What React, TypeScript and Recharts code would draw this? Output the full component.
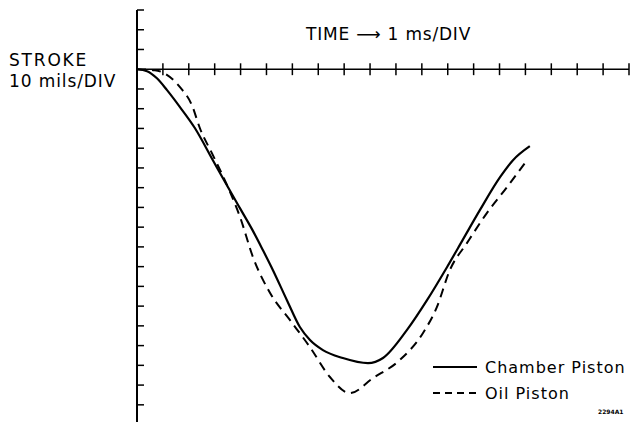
import { LineChart, Line, XAxis, YAxis, ReferenceLine, Legend } from "recharts";

// time in ms (1 div = 1 ms), stroke in divisions (1 div = 10 mils), downward negative
const chamberPiston = [
  { t: 0, s: 0 },
  { t: 0.39, s: -0.1 },
  { t: 0.77, s: -0.46 },
  { t: 1.16, s: -1.06 },
  { t: 1.66, s: -1.92 },
  { t: 2.24, s: -2.99 },
  { t: 2.93, s: -4.61 },
  { t: 3.51, s: -5.97 },
  { t: 3.98, s: -7.05 },
  { t: 4.44, s: -8.1 },
  { t: 4.86, s: -9.16 },
  { t: 5.25, s: -10.18 },
  { t: 5.79, s: -11.7 },
  { t: 6.29, s: -13.06 },
  { t: 6.68, s: -13.72 },
  { t: 7.18, s: -14.23 },
  { t: 7.95, s: -14.63 },
  { t: 8.92, s: -14.89 },
  { t: 9.5, s: -14.63 },
  { t: 10.42, s: -13.22 },
  { t: 11.2, s: -11.7 },
  { t: 11.97, s: -10.03 },
  { t: 12.59, s: -8.62 },
  { t: 13.24, s: -7.14 },
  { t: 14.02, s: -5.47 },
  { t: 14.52, s: -4.61 },
  { t: 15.17, s: -3.9 },
];

const oilPiston = [
  { t: 0, s: 0 },
  { t: 0.69, s: -0.05 },
  { t: 0.97, s: -0.15 },
  { t: 1.66, s: -0.91 },
  { t: 2.12, s: -1.82 },
  { t: 2.43, s: -2.99 },
  { t: 2.93, s: -4.35 },
  { t: 3.51, s: -5.97 },
  { t: 3.98, s: -7.49 },
  { t: 4.48, s: -9.52 },
  { t: 5.14, s: -11.34 },
  { t: 5.91, s: -12.71 },
  { t: 6.68, s: -14.08 },
  { t: 7.45, s: -15.59 },
  { t: 8.22, s: -16.41 },
  { t: 9.11, s: -15.65 },
  { t: 10.15, s: -14.73 },
  { t: 11.04, s: -13.37 },
  { t: 11.58, s: -12.05 },
  { t: 12.08, s: -10.18 },
  { t: 12.74, s: -8.81 },
  { t: 13.51, s: -7.29 },
  { t: 14.29, s: -5.97 },
  { t: 15.06, s: -4.61 },
];

const timeTicks = [1, 2, 3, 4, 5, 6, 7, 8, 9, 10, 11, 12, 13, 14, 15, 16, 17, 18, 19];
const strokeTicks = [3, 2, 1, -1, -2, -3, -4, -5, -6, -7, -8, -9, -10, -11, -12, -13, -14, -15, -16, -17];

const series = [
  { name: "Chamber Piston", dash: undefined },
  { name: "Oil Piston", dash: "7 5" },
];

const font = "'DejaVu Sans', sans-serif";

const renderLegend = () => (
  <div style={{ fontFamily: font, fontSize: 16, letterSpacing: 1, color: "#000" }}>
    {series.map((s) => (
      <div key={s.name} style={{ display: "flex", alignItems: "center", height: 26 }}>
        <svg width={44} height={6} style={{ marginRight: 8 }}>
          <line x1={0} y1={3} x2={44} y2={3} stroke="#000" strokeWidth={2.2} strokeDasharray={s.dash} />
        </svg>
        {s.name}
      </div>
    ))}
  </div>
);

const App = () => {
  return (
    <div style={{ position: "absolute", left: 0, top: 0, width: 630, height: 424, background: "#fff" }}>
      <LineChart width={630} height={424} margin={{ top: 10, right: 1, bottom: 2, left: 137 }}>
        <XAxis type="number" dataKey="t" domain={[0, 19]} hide />
        <YAxis type="number" dataKey="s" domain={[-17.87, 3]} hide />
        <ReferenceLine x={0} stroke="#000" strokeWidth={2} />
        <ReferenceLine y={0} stroke="#000" strokeWidth={1.6} />
        {timeTicks.map((t) => (
          <ReferenceLine
            key={`xt-${t}`}
            segment={[{ x: t, y: -0.3 }, { x: t, y: 0.3 }]}
            stroke="#000"
            strokeWidth={1.5}
          />
        ))}
        {strokeTicks.map((s) => (
          <ReferenceLine
            key={`yt-${s}`}
            segment={[{ x: 0, y: s }, { x: 0.27, y: s }]}
            stroke="#000"
            strokeWidth={1.5}
          />
        ))}
        <Line
          data={chamberPiston}
          dataKey="s"
          name="Chamber Piston"
          type="monotone"
          stroke="#000"
          strokeWidth={2.2}
          dot={false}
          isAnimationActive={false}
        />
        <Line
          data={oilPiston}
          dataKey="s"
          name="Oil Piston"
          type="monotone"
          stroke="#000"
          strokeWidth={2}
          strokeDasharray="9 6"
          dot={false}
          isAnimationActive={false}
        />
        <Legend
          layout="vertical"
          align="center"
          verticalAlign="middle"
          content={renderLegend}
          wrapperStyle={{ left: 433, top: 354, width: 200, height: 54 }}
        />
      </LineChart>
      <div style={{ position: "absolute", left: 9, top: 50, fontFamily: font, fontSize: 17, letterSpacing: 1.8, lineHeight: "21px", color: "#000" }}>
        <div>STROKE</div>
        <div style={{ letterSpacing: 0.9 }}>10 mils/DIV</div>
      </div>
      <div style={{ position: "absolute", left: 306, top: 24, fontFamily: font, fontSize: 17, letterSpacing: 0.8, color: "#000", whiteSpace: "nowrap" }}>
        TIME ⟶ 1 ms/DIV
      </div>
      <div style={{ position: "absolute", left: 598, top: 408, fontFamily: font, fontSize: 6, fontWeight: "bold", color: "#000" }}>
        2294A1
      </div>
    </div>
  );
};

export default App;
